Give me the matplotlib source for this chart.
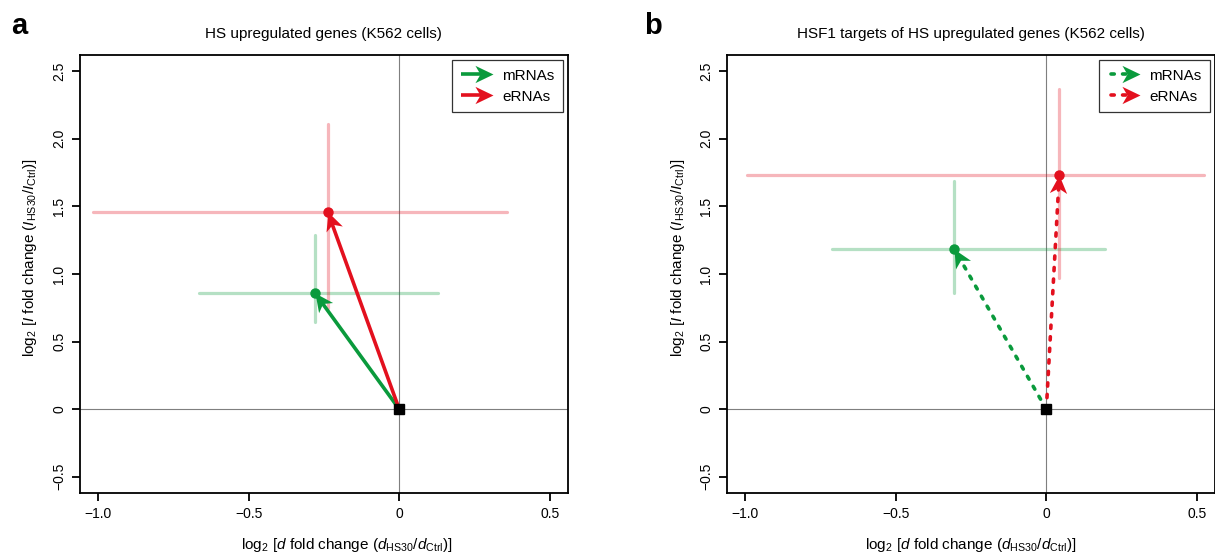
import numpy as np
import matplotlib
matplotlib.use('Agg')
import matplotlib.pyplot as plt
from matplotlib.lines import Line2D
from matplotlib.markers import MarkerStyle
from matplotlib.path import Path
from matplotlib.transforms import Affine2D
from matplotlib.legend_handler import HandlerBase

plt.rcParams['font.family'] = ['Liberation Sans', 'DejaVu Sans']
plt.rcParams['mathtext.fontset'] = 'custom'
plt.rcParams['mathtext.rm'] = 'Liberation Sans'
plt.rcParams['mathtext.it'] = 'Liberation Sans:italic'
plt.rcParams['mathtext.bf'] = 'Liberation Sans:bold'

# --- data ---
panel_letters = ['a', 'b']
titles = ['HS upregulated genes (K562 cells)',
          'HSF1 targets of HS upregulated genes (K562 cells)']
series = ['mRNAs', 'eRNAs']

# point = mean shift, *_lo/*_hi = error bar ends
a_x = [-0.280, -0.237]
a_y = [0.860, 1.457]
a_x_lo = [-0.666, -1.017]
a_x_hi = [0.129, 0.358]
a_y_lo = [0.643, 0.747]
a_y_hi = [1.287, 2.108]

b_x = [-0.306, 0.043]
b_y = [1.186, 1.731]
b_x_lo = [-0.712, -0.994]
b_x_hi = [0.195, 0.525]
b_y_lo = [0.858, 0.971]
b_y_hi = [1.689, 2.367]

xticks = [-1.0, -0.5, 0, 0.5]
xtick_labels = ['\u22121.0', '\u22120.5', '0', '0.5']
yticks = [-0.5, 0, 0.5, 1.0, 1.5, 2.0, 2.5]
ytick_labels = ['\u22120.5', '0', '0.5', '1.0', '1.5', '2.0', '2.5']

colors = ['#0a9a3c', '#e3101e']

xlabel = r'log$_2$ [$d$ fold change ($d_{\rm HS30}/d_{\rm Ctrl}$)]'
ylabel = r'log$_2$ [$I$ fold change ($I_{\rm HS30}/I_{\rm Ctrl}$)]'

# arrow head shape (concave back), tip at the origin pointing +x
head_path = Path([(0, 0), (-1, 0.48), (-0.72, 0), (-1, -0.48), (0, 0)],
                 [Path.MOVETO, Path.LINETO, Path.LINETO, Path.LINETO, Path.CLOSEPOLY])
HEAD_MS = 26
DOTTED = (0, (0.9, 2.3))


def head_marker(angle):
    return MarkerStyle(head_path, transform=Affine2D().rotate_deg(angle))


class ArrowHandler(HandlerBase):
    def __init__(self, color, dotted):
        super().__init__()
        self.color = color
        self.dotted = dotted

    def create_artists(self, legend, orig_handle, xdescent, ydescent,
                       width, height, fontsize, trans):
        y = height / 2 - ydescent
        x0 = -xdescent
        x1 = width - xdescent
        if self.dotted:
            line = Line2D([x0 + 2, x1 - 10], [y, y], color=self.color, lw=2.6,
                          linestyle=DOTTED, dash_capstyle='round', transform=trans)
        else:
            line = Line2D([x0, x1 - 8], [y, y], color=self.color, lw=2.6,
                          solid_capstyle='butt', transform=trans)
        head = Line2D([x1], [y], lw=0, marker=head_marker(0), ms=HEAD_MS,
                      color=self.color, markeredgewidth=0, transform=trans)
        return [line, head]


def draw_panel(ax, xs, ys, xlo, xhi, ylo, yhi, dotted, title, xlab_x):
    ax.set_xlim(-1.06, 0.56)
    ax.set_ylim(-0.62, 2.62)
    ax.axvline(0, color='#7f7f7f', lw=0.8, zorder=1)
    ax.axhline(0, color='#7f7f7f', lw=0.8, zorder=1)

    # error bars
    for i in range(len(series)):
        ax.plot([xlo[i], xhi[i]], [ys[i], ys[i]], color=colors[i], alpha=0.3,
                lw=2.3, solid_capstyle='round', zorder=2)
        ax.plot([xs[i], xs[i]], [ylo[i], yhi[i]], color=colors[i], alpha=0.3,
                lw=2.3, solid_capstyle='round', zorder=2)

    # arrows from origin to the shifted point
    for i in range(len(series)):
        if dotted:
            ax.plot([0, xs[i]], [0, ys[i]], color=colors[i], lw=2.6,
                    linestyle=DOTTED, dash_capstyle='round', zorder=3)
        else:
            ax.plot([0, xs[i]], [0, ys[i]], color=colors[i], lw=2.6, zorder=3)
        p0 = ax.transData.transform((0, 0))
        p1 = ax.transData.transform((xs[i], ys[i]))
        ang = np.degrees(np.arctan2(p1[1] - p0[1], p1[0] - p0[0]))
        ax.plot([xs[i]], [ys[i]], lw=0, marker=head_marker(ang), ms=HEAD_MS,
                color=colors[i], markeredgewidth=0, zorder=4)
        ax.plot([xs[i]], [ys[i]], 'o', color=colors[i], ms=6.5, zorder=5)

    ax.plot([0], [0], 's', color='black', ms=7, zorder=6)

    ax.set_xticks(xticks)
    ax.set_xticklabels(xtick_labels)
    ax.set_yticks(yticks)
    ax.set_yticklabels(ytick_labels, rotation=90, va='center')
    ax.tick_params(direction='out', length=5.8, width=1.3, labelsize=10, pad=4)
    for s in ax.spines.values():
        s.set_linewidth(1.3)
    ax.set_title(title, fontsize=11, pad=12)
    ax.set_xlabel(xlabel, fontsize=11)
    ax.set_ylabel(ylabel, fontsize=11)
    ax.xaxis.set_label_coords(xlab_x, -0.098)
    ax.yaxis.set_label_coords(-0.083, 0.537)

    handles = [Line2D([], [], color=c) for c in colors]
    leg = ax.legend(handles, series, loc='upper right', fontsize=11,
                    handler_map={h: ArrowHandler(c, dotted) for h, c in zip(handles, colors)},
                    handlelength=2.1, handletextpad=0.6, labelspacing=0.45,
                    borderpad=0.55, borderaxespad=0.35, fancybox=False,
                    framealpha=1, edgecolor='#333333')
    leg.get_frame().set_linewidth(0.9)


fig = plt.figure(figsize=(12.15, 5.56), dpi=100)
ax_a = fig.add_axes([0.0658, 0.1133, 0.4016, 0.7878])
ax_b = fig.add_axes([0.5984, 0.1133, 0.4016, 0.7878])

draw_panel(ax_a, a_x, a_y, a_x_lo, a_x_hi, a_y_lo, a_y_hi, False, titles[0], 0.547)
draw_panel(ax_b, b_x, b_y, b_x_lo, b_x_hi, b_y_lo, b_y_hi, True, titles[1], 0.5)

fig.text(19 / 1215, 1 - 34 / 556, panel_letters[0], fontsize=21, fontweight='bold',
         ha='center', va='baseline')
fig.text(653 / 1215, 1 - 34 / 556, panel_letters[1], fontsize=21, fontweight='bold',
         ha='center', va='baseline')

fig.savefig('out.png', dpi=100)
